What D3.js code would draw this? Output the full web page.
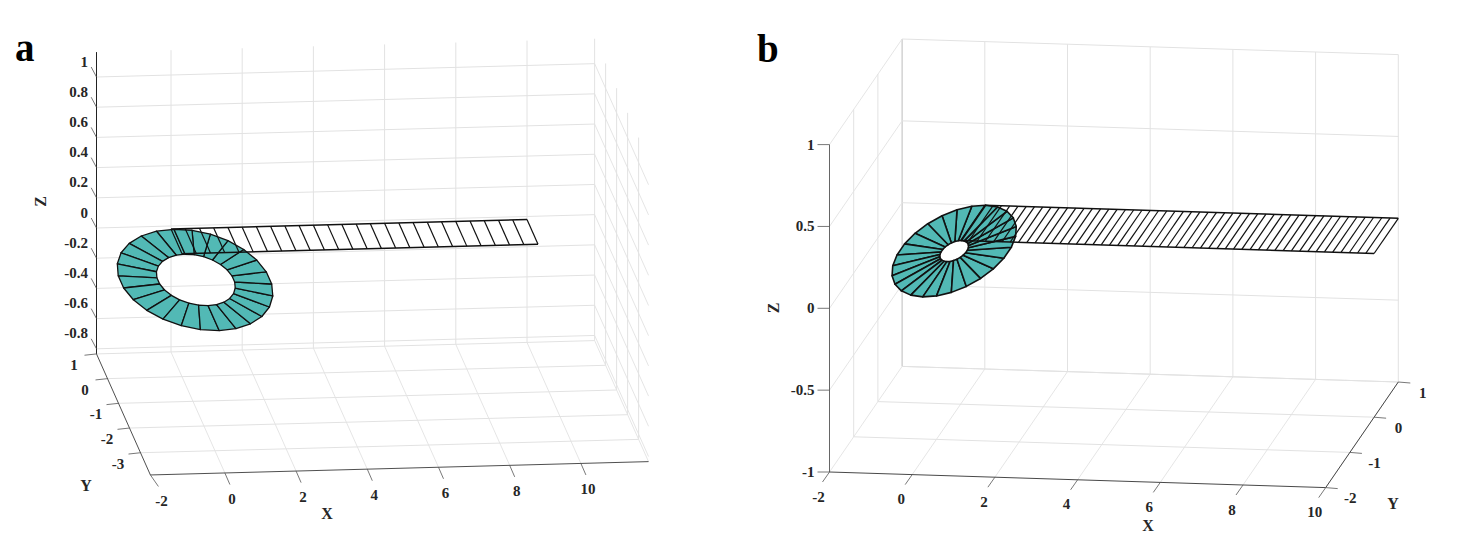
<!DOCTYPE html>
<html><head><meta charset="utf-8">
<script src="https://cdn.jsdelivr.net/npm/d3@7/dist/d3.min.js"></script>
<style>html,body{margin:0;padding:0;background:#fff}svg{display:block}text{font-family:"Liberation Serif",serif;font-weight:bold;fill:#262626}</style>
</head><body><svg id="c" width="1476" height="556"></svg>
<script>
// ---- data ----
const xTicksA=[-2,0,2,4,6,8,10];
const yTicksA=[1,0,-1,-2,-3];
const zTicksA=[1,0.8,0.6,0.4,0.2,0,-0.2,-0.4,-0.6,-0.8];
const limitsA={x:[-2,11.9],y:[1,-3.9],z:[-0.834,1.165]};
const stripStationsA=[0,0.4,0.8,1.2,1.6,2,2.4,2.8,3.2,3.6,4,4.4,4.8,5.2,5.6,6,6.4,6.8,7.2,7.6,8,8.4,8.8,9.2,9.6,10];
const stripWidthA=[0,1];
const stripLevelA=-0.02;
const ringCentreA=[0.1,-1,-0.03];
const ringRadiiA=[1.04,2.05];

const xTicksB=[-2,0,2,4,6,8,10];
const yTicksB=[1,0,-1,-2];
const zTicksB=[1,0.5,0,-0.5,-1];
const limitsB={x:[-2,10],y:[-2,1],z:[-1,1]};
const stripStationsB=[0,0.2,0.4,0.6,0.8,1,1.2,1.4,1.6,1.8,2,2.2,2.4,2.6,2.8,3,3.2,3.4,3.6,3.8,4,4.2,4.4,4.6,4.8,5,5.2,5.4,5.6,5.8,6,6.2,6.4,6.6,6.8,7,7.2,7.4,7.6,7.8,8,8.2,8.4,8.6,8.8,9,9.2,9.4,9.6,9.8,10];
const stripWidthB=[0,1];
const stripLevelB=0;
const ringCentreB=[0.02,-0.3,0];
const ringRadiiB=[0.3,1.3];

const ringAngles=[90,103.85,117.7,131.55,145.4,159.25,173.1,186.95,200.8,214.65,228.5,242.35,256.2,270.05,283.9,297.75,311.6,325.45,339.3,353.15,367,380.85,394.7,408.55,422.4,436.25,450];

// ---- oblique projections built from d3 scales ----
function projection(sx,sy,sz){
  return (x,y,z)=>[sx.h(x)+sy.h(y)+sz.h(z), sx.v(x)+sy.v(y)+sz.v(z)];
}
function axis(dom,hs,vs){
  return {h:d3.scaleLinear().domain(dom).range(hs),
          v:d3.scaleLinear().domain(dom).range(vs)};
}
const pa=projection(axis([-2,0,10],[96.5,171,527],[0,-1.92,-11.52]),axis([1,-3],[0,44],[0,98.8]),axis([0,1],[0,0],[228,77]));
const pb=projection(axis([-2,10],[829.5,1325.7],[0,15.6]),axis([-2,1],[0,72.6],[0,-105.6]),axis([-1,1],[0,0],[472,144.6]));

const svg=d3.select('#c');
const line=d3.line();
const GRID='#e2e2e2';

function seg(g,pts,stroke,w){g.append('path').attr('d',line(pts)).attr('fill','none').attr('stroke',stroke).attr('stroke-width',w);}
function label(g,x,y,t,size,anchor,rot){
  const n=g.append('text').attr('font-size',size).attr('text-anchor',anchor||'middle').attr('dominant-baseline','central').text(t);
  if(rot) n.attr('transform',`translate(${x},${y}) rotate(${rot})`); else n.attr('x',x).attr('y',y);
}
function ribbon(g,p,stations,width,level,centre,radii,strokeW,hatchW){
  const s0=stations[0],s1=stations[stations.length-1];
  const strip=[p(s0,width[0],level),p(s1,width[0],level),p(s1,width[1],level),p(s0,width[1],level)];
  g.append('path').attr('d',line(strip)+'Z').attr('fill','#fff');
  const rp=(deg,r)=>{const t=deg*Math.PI/180;return p(centre[0]+r*Math.cos(t),centre[1]+r*Math.sin(t),centre[2]);};
  g.append('g').selectAll('path').data(d3.pairs(ringAngles)).join('path')
    .attr('d',([a,b])=>line([rp(a,radii[0]),rp(a,radii[1]),rp(b,radii[1]),rp(b,radii[0])])+'Z')
    .attr('fill','#52b9b5').attr('stroke','#111').attr('stroke-width',strokeW).attr('stroke-linejoin','round');
  const lg=g.append('g');
  stations.forEach(s=>seg(lg,[p(s,width[0],level),p(s,width[1],level)],'#111',hatchW));
  seg(lg,[strip[0],strip[1]],'#111',hatchW+0.3);
  seg(lg,[strip[3],strip[2]],'#111',hatchW+0.3);
}

// ---- panel a ----
(function(){
  const g=svg.append('g'),p=pa,L=limitsA;
  const [x0,x1]=L.x,[y0,y1]=L.y,[z0,z1]=L.z;
  xTicksA.slice(1).forEach(x=>{seg(g,[p(x,y0,z0),p(x,y0,z1)],GRID,1);seg(g,[p(x,y0,z0),p(x,y1,z0)],GRID,0.9);});
  yTicksA.forEach(y=>seg(g,[p(x0,y,z0),p(x1,y,z0)],GRID,1));
  yTicksA.forEach(y=>seg(g,[p(x1,y,z0),p(x1,y,z1)],GRID,1));
  zTicksA.forEach(z=>{seg(g,[p(x0,y0,z),p(x1,y0,z)],GRID,1);seg(g,[p(x1,y0,z),p(x1,y1,z)],GRID,0.9);});
  seg(g,[p(x1,y0,z0),p(x1,y1,z0)],GRID,0.9);
  ribbon(g,p,stripStationsA,stripWidthA,stripLevelA,ringCentreA,ringRadiiA,1.3,1.2);
  const AX='#222';
  seg(g,[p(x0,y0,z0),p(x0,y0,z1)],AX,1);
  seg(g,[p(x0,y0,z0),p(x0,y1,z0)],AX,0.8);
  seg(g,[p(x0,y1,z0),p(x1,y1,z0)],AX,0.8);
  zTicksA.forEach(z=>{const a=p(x0,y0,z);seg(g,[a,[a[0]-5.3,a[1]-10]],'#555',0.8);
    label(g,a[0]-8.5,a[1]-15.5,String(z),15,'end');});
  yTicksA.forEach(y=>{const a=p(x0,y,z0);seg(g,[a,[a[0]-12,a[1]+1.3]],'#555',0.8);
    label(g,a[0]-22.5,a[1]+11,String(y),15);});
  xTicksA.forEach(x=>{const a=p(x,y1,z0);seg(g,[a,[a[0]+(x<0?8:5),a[1]+11.5]],'#555',0.8);
    label(g,a[0]+(x<0?11:7),a[1]+26,String(x),15);});
  label(g,40,201.5,'Z',16,'middle',-90);
  label(g,327,513,'X',16);
  label(g,86,485,'Y',16);
  g.append('text').attr('x',15).attr('y',61).attr('font-size',39).style('fill','#000').text('a');
})();

// ---- panel b ----
(function(){
  const g=svg.append('g'),p=pb,L=limitsB;
  const [x0,x1]=L.x,[y0,y1]=L.y,[z0,z1]=L.z;
  xTicksB.slice(1).forEach(x=>{seg(g,[p(x,y1,z0),p(x,y1,z1)],GRID,1);seg(g,[p(x,y0,z0),p(x,y1,z0)],GRID,0.9);});
  yTicksB.slice(0,3).forEach(y=>{seg(g,[p(x0,y,z0),p(x1,y,z0)],GRID,1);seg(g,[p(x0,y,z0),p(x0,y,z1)],y===1?'#bdbdbd':GRID,1);});
  zTicksB.forEach(z=>{seg(g,[p(x0,y1,z),p(x1,y1,z)],GRID,1);seg(g,[p(x0,y0,z),p(x0,y1,z)],GRID,0.9);});
  ribbon(g,p,stripStationsB,stripWidthB,stripLevelB,ringCentreB,ringRadiiB,1.6,1.2);
  const AX='#333';
  seg(g,[p(x0,y0,z0),p(x0,y0,z1)],'#666',1);
  seg(g,[p(x0,y0,z0),p(x1,y0,z0)],AX,0.9);
  seg(g,[p(x1,y0,z0),p(x1,y1,z0)],AX,0.9);
  zTicksB.forEach(z=>{const a=p(x0,y0,z);seg(g,[a,[a[0]-12,a[1]]],'#555',0.8);
    label(g,a[0]-15,a[1],String(z),15,'end');});
  yTicksB.forEach(y=>{const a=p(x1,y,z0);seg(g,[a,[a[0]+12,a[1]+1]],'#555',0.8);
    label(g,a[0]+24.5,a[1]+10.5,String(y),15);});
  xTicksB.forEach(x=>{const a=p(x,y0,z0);seg(g,[a,[a[0]-7,a[1]+10]],'#555',0.8);
    label(g,a[0]-11,a[1]+24.5,String(x),15);});
  label(g,773,308,'Z',16,'middle',-90);
  label(g,1148,525,'X',16);
  label(g,1393,503,'Y',16);
  g.append('text').attr('x',757).attr('y',61.5).attr('font-size',39).style('fill','#000').text('b');
})();
</script></body></html>
